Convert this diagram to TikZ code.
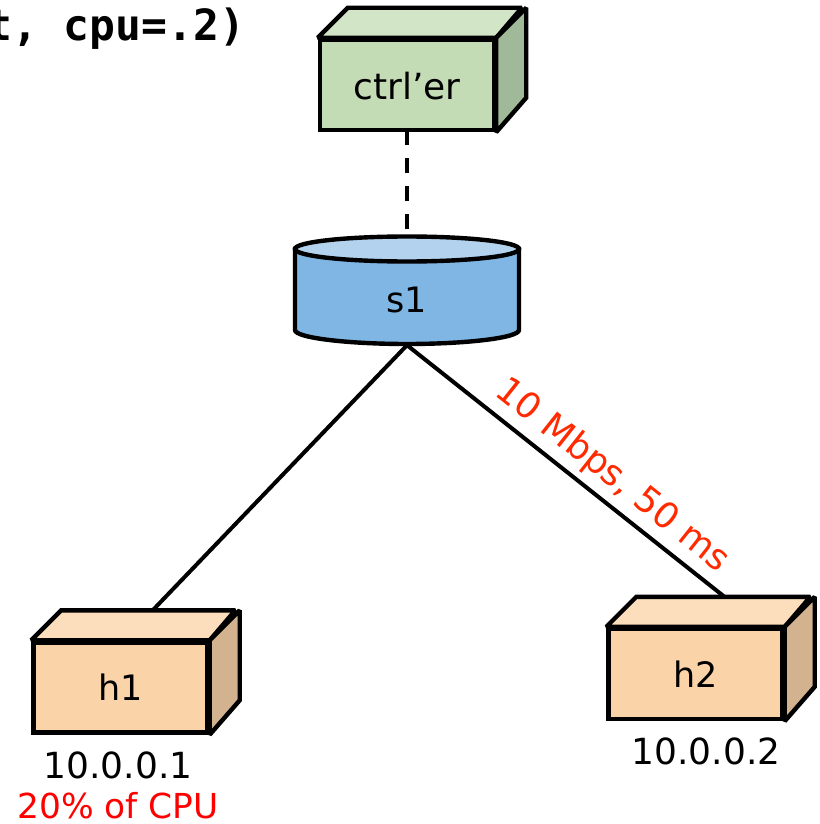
\documentclass[tikz,border=0pt]{standalone}
\usepackage{fontspec}
\setmainfont{DejaVu Sans}
\newfontfamily\codefont{DejaVu Sans Mono Bold}
\usetikzlibrary{calc}
\definecolor{greenF}{HTML}{C4DCB5}
\definecolor{greenT}{HTML}{D2E5C6}
\definecolor{greenS}{HTML}{A0B999}
\definecolor{orangeF}{HTML}{FBD3A9}
\definecolor{orangeT}{HTML}{FCDDBC}
\definecolor{orangeS}{HTML}{D2B28F}
\definecolor{blueB}{HTML}{7FB6E4}
\definecolor{blueT}{HTML}{B3D2EE}
\definecolor{linkred}{HTML}{FF2A00}
\tikzset{
  edgeline/.style={line width=4.4pt,line join=miter,miter limit=1.5,draw=black},
  wire/.style={line width=4pt,draw=black},
  front/.style={edgeline,inner sep=0pt,minimum width=174pt,minimum height=90pt},
  caption/.style={inner sep=0pt,font=\fontsize{35}{35}\selectfont},
}
\begin{document}
\begin{tikzpicture}[x=1pt,y=-1pt]
\useasboundingbox (0,0) rectangle (819,824);
\clip (0,0) rectangle (819,824);
% code fragment
\node[anchor=base west,inner sep=0pt,font=\codefont\fontsize{43}{43}\selectfont] (code) at (-14,41) {t, cpu=.2)};
% connectors
\coordinate (h1port) at (152,611);
\coordinate (h2port) at (726,598);
\node[inner sep=0pt,minimum width=224pt,minimum height=110pt] (s1) at (407,290) {};
\draw[wire,dash pattern=on 15pt off 13pt] (407,130) -- (s1.north);
\draw[wire] (s1.south) -- (h1port);
\draw[wire] (s1.south) -- (h2port);
% controller
\node[front,fill=greenF,font=\fontsize{36}{36}\selectfont,text depth=0pt] (ctrl) at (407,85) {\raisebox{-1.5pt}{ctrl’er}};
\filldraw[edgeline,fill=greenT] (ctrl.north west) -- ++(30,-30) -- ++(174,0) -- (ctrl.north east) -- cycle;
\filldraw[edgeline,fill=greenS] (ctrl.north east) -- ++(30,-30) -- ++(0,90) -- (ctrl.south east) -- cycle;
% switch
\filldraw[edgeline,fill=blueB] (295,249) -- (295,330) .. controls (295,338) and (349,344) .. (407,344) .. controls (465,344) and (519,338) .. (519,330) -- (519,249) -- cycle;
\filldraw[edgeline,fill=blueT] (407,249) ellipse [x radius=112,y radius=12.5];
\node[caption] (s1label) at (407,300) {s1};
% hosts
\node[front,fill=orangeF,font=\fontsize{35}{35}\selectfont] (h1) at (120.5,687.5) {\raisebox{-1.5pt}{h1}};
\filldraw[edgeline,fill=orangeT] (h1.north west) -- ++(30,-30) -- ++(174,0) -- (h1.north east) -- cycle;
\filldraw[edgeline,fill=orangeS] (h1.north east) -- ++(30,-30) -- ++(0,90) -- (h1.south east) -- cycle;
\node[front,fill=orangeF,font=\fontsize{35}{35}\selectfont] (h2) at (695.5,674) {\raisebox{-1.5pt}{h2}};
\filldraw[edgeline,fill=orangeT] (h2.north west) -- ++(30,-30) -- ++(174,0) -- (h2.north east) -- cycle;
\filldraw[edgeline,fill=orangeS] (h2.north east) -- ++(30,-30) -- ++(0,90) -- (h2.south east) -- cycle;
% labels
\node[caption,font=\fontsize{36}{36}\selectfont] (ip1) at (118,765) {10.0.0.1};
\node[caption,text=red,font=\fontsize{34.4}{34.4}\selectfont] (cpu) at (118,806) {20\% of CPU};
\node[caption,font=\fontsize{36}{36}\selectfont] (ip2) at (706,751) {10.0.0.2};
\node[caption,text=linkred,rotate=-38.4,font=\fontsize{36}{36}\selectfont] (rate) at (612.5,476) {10 Mbps, 50 ms};
\end{tikzpicture}
\end{document}
